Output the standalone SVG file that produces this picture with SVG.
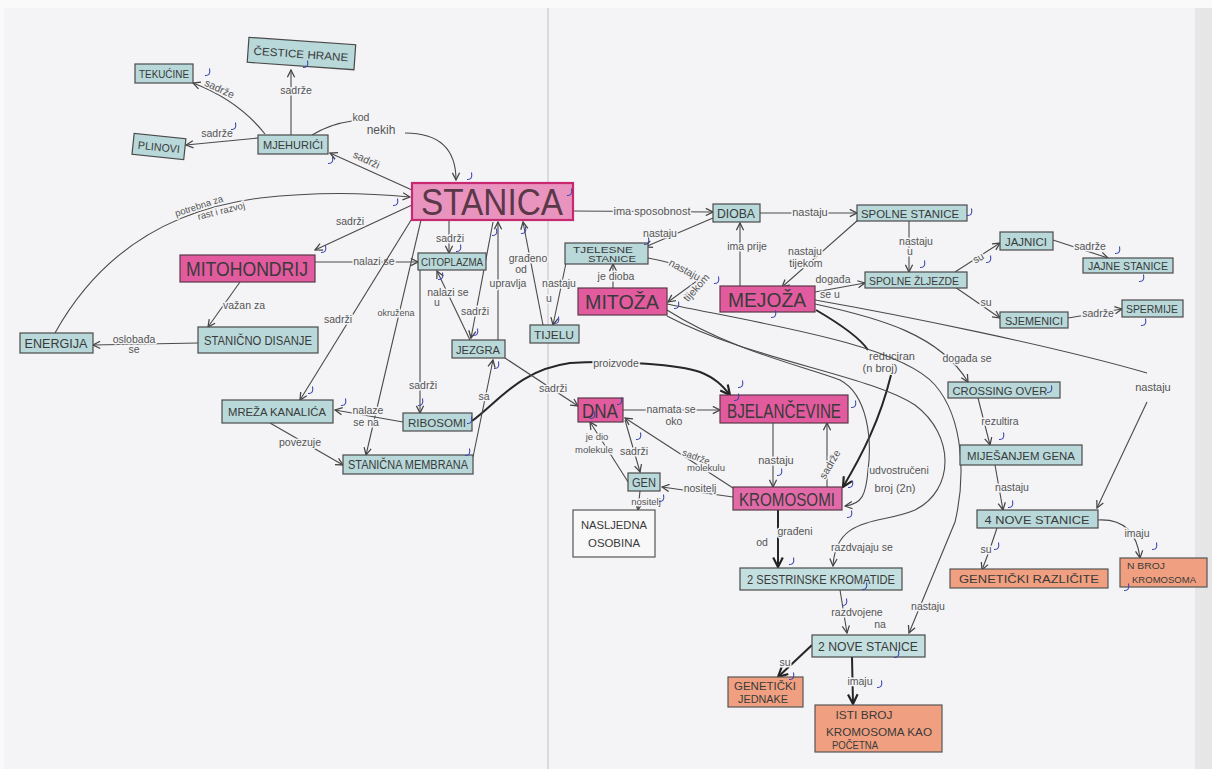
<svg xmlns="http://www.w3.org/2000/svg" width="1212" height="769" viewBox="0 0 1212 769">
<defs>
<marker id="ah" viewBox="0 0 10 10" refX="9" refY="5" markerWidth="9" markerHeight="9" orient="auto" markerUnits="userSpaceOnUse">
<path d="M1,1 L9,5 L1,9" fill="none" stroke="#444" stroke-width="1.4"/>
</marker>
<marker id="ahb" viewBox="0 0 10 10" refX="9" refY="5" markerWidth="12" markerHeight="12" orient="auto" markerUnits="userSpaceOnUse">
<path d="M1,1 L9,5 L1,9" fill="none" stroke="#222" stroke-width="1.8"/>
</marker>
<symbol id="tick" viewBox="0 0 8 10" width="8" height="10"><path d="M5.5,0.5 Q7,8 1,7.5" fill="none" stroke="#3a46b0" stroke-width="1.1"/></symbol>
</defs>
<style>
.paper{fill:#f4f4f6}
.teal{fill:#b8d8d9;stroke:#4a4a4a;stroke-width:1.2}
.pink{fill:#e25b9f;stroke:#5a3a48;stroke-width:1.2}
.stbox{fill:#e993bf;stroke:#c8286f;stroke-width:2.2}
.orange{fill:#f0a080;stroke:#555;stroke-width:1.2}
.white{fill:#f8f8f8;stroke:#555;stroke-width:1.2}
.nt{font-family:"Liberation Sans",Arial,sans-serif;fill:#3a3a3a;text-anchor:middle}
.lbl{font-family:"Liberation Sans",Arial,sans-serif;font-size:10.5px;fill:#555;text-anchor:middle;stroke:#f4f4f6;stroke-width:3px;paint-order:stroke;stroke-linejoin:round}
.c{fill:none;stroke:#4a4a4a;stroke-width:1.1;marker-end:url(#ah)}
.n{fill:none;stroke:#4a4a4a;stroke-width:1.1}
.t{fill:none;stroke:#262626;stroke-width:2;marker-end:url(#ahb)}
.tn{fill:none;stroke:#262626;stroke-width:2}
</style>
<rect x="0" y="0" width="1212" height="769" fill="#fafafa"/>
<rect x="4" y="8" width="1191" height="761" class="paper"/>
<rect x="1195" y="8" width="17" height="761" fill="#e6e6e6"/>
<line x1="548" y1="8" x2="548" y2="769" stroke="#c9c9cd" stroke-width="1.2"/>

<g id="connectors">
<path class="c" d="M291,135 L291,70"/>
<text class="lbl" x="296" y="94">sadrže</text>
<path class="c" d="M265,134 Q238,100 193,83"/>
<text class="lbl" x="218" y="92" transform="rotate(25 218 92)">sadrže</text>
<path class="c" d="M258,138 L186,145"/>
<text class="lbl" x="217" y="137">sadrže</text>
<path class="n" d="M312,135 Q330,124 352,121"/>
<text class="lbl" x="361" y="121" font-size="9">kod</text>
<text class="lbl" x="381" y="134" style="font-size:12px">nekih</text>
<path class="c" d="M405,133 C440,133 456,150 456,180"/>
<path class="c" d="M412,190 L330,153"/>
<text class="lbl" x="365" y="163" transform="rotate(25 365 163)">sadrži</text>
<path class="c" d="M55,333 C90,270 150,212 260,198 C320,191 370,193 410,197"/>
<text class="lbl" x="200" y="209" transform="rotate(-18 200 209)" style="font-size:9.5px">potrebna za</text>
<text class="lbl" x="222" y="214" transform="rotate(-14 222 214)" style="font-size:9.5px">rast i razvoj</text>
<path class="c" d="M412,205 L315,250"/>
<text class="lbl" x="350" y="225">sadrži</text>
<path class="c" d="M315,262 L418,262"/>
<text class="lbl" x="374" y="265">nalazi se</text>
<path class="c" d="M240,282 L208,327"/>
<text class="lbl" x="244" y="309">važan za</text>
<path class="c" d="M198,343 L93,345"/>
<text class="lbl" x="134" y="343">oslobađa</text>
<text class="lbl" x="134" y="353">se</text>
<path class="c" d="M449,220 L449,253"/>
<text class="lbl" x="450" y="242">sadrži</text>
<path class="c" d="M413,217 L300,400"/>
<text class="lbl" x="338" y="323">sadrži</text>
<path class="c" d="M421,220 L366,455"/>
<text class="lbl" x="396" y="316" style="font-size:9px">okružena</text>
<path class="c" d="M420,270 L420,413"/>
<text class="lbl" x="423" y="389">sadrži</text>
<path class="c" d="M470,340 L437,271"/>
<text class="lbl" x="448" y="296">nalazi se</text>
<text class="lbl" x="437" y="306">u</text>
<path class="c" d="M493,222 L471,338"/>
<text class="lbl" x="475" y="315">sadrži</text>
<path class="c" d="M498,340 L498,222"/>
<text class="lbl" x="508" y="287">upravlja</text>
<path class="c" d="M543,325 L523,222"/>
<text class="lbl" x="528" y="262">građeno</text>
<text class="lbl" x="521" y="273">od</text>
<path class="c" d="M566,263 L553,325"/>
<text class="lbl" x="559" y="287">nastaju</text>
<text class="lbl" x="549" y="302">u</text>
<path class="c" d="M713,218 L645,247"/>
<text class="lbl" x="660" y="237">nastaju</text>
<path class="c" d="M613,288 L613,264"/>
<text class="lbl" x="616" y="280">je dioba</text>
<path class="c" d="M648,258 Q690,266 701,278 L668,302"/>
<text class="lbl" x="683" y="273" transform="rotate(28 683 273)">nastaju</text>
<text class="lbl" x="699" y="290" transform="rotate(-48 699 290)">tijekom</text>
<path class="c" d="M573,211 L713,212"/>
<text class="lbl" x="652" y="215" style="font-size:11px">ima sposobnost</text>
<path class="c" d="M760,213 L857,213"/>
<text class="lbl" x="810" y="216" style="font-size:11px">nastaju</text>
<path class="c" d="M740,286 L740,223"/>
<text class="lbl" x="747" y="250">ima prije</text>
<path class="c" d="M858,220 L782,287"/>
<text class="lbl" x="805" y="255">nastaju</text>
<text class="lbl" x="806" y="267">tijekom</text>
<path class="c" d="M909,221 L909,272"/>
<text class="lbl" x="916" y="245">nastaju</text>
<text class="lbl" x="910" y="255">u</text>
<path class="c" d="M815,292 L865,283"/>
<text class="lbl" x="833" y="283">događa</text>
<text class="lbl" x="830" y="298">se u</text>
<path class="c" d="M955,272 L1000,243"/>
<text class="lbl" x="980" y="261" transform="rotate(-30 980 261)">su</text>
<path class="c" d="M955,287 L1000,318"/>
<text class="lbl" x="986" y="306">su</text>
<path class="c" d="M1053,240 L1108,258"/>
<text class="lbl" x="1090" y="250">sadrže</text>
<path class="c" d="M1068,318 L1122,309"/>
<text class="lbl" x="1098" y="317">sadrže</text>
<path class="c" d="M815,304 C880,318 940,335 968,382"/>
<text class="lbl" x="967" y="362">događa se</text>
<path class="n" d="M815,300 C900,315 1050,345 1147,373"/>
<text class="lbl" x="1153" y="391" style="font-size:11px">nastaju</text>
<path class="c" d="M1147,402 L1097,508"/>
<path class="c" d="M978,398 L990,445"/>
<text class="lbl" x="1000" y="425">rezultira</text>
<path class="c" d="M995,465 L1003,510"/>
<text class="lbl" x="1012" y="491">nastaju</text>
<path class="c" d="M997,528 Q990,550 982,570"/>
<text class="lbl" x="986" y="553">su</text>
<path class="c" d="M1098,520 Q1135,518 1140,558"/>
<text class="lbl" x="1137" y="537">imaju</text>
<path class="tn" d="M816,310 C840,324 860,338 868,350"/>
<text class="lbl" x="892" y="360" style="font-size:11px">reduciran</text>
<text class="lbl" x="880" y="372" style="font-size:11px">(n broj)</text>
<path class="t" d="M891,375 C880,420 862,455 843,487"/>
<path class="c" d="M667,310 C730,350 800,365 840,380 C868,395 872,440 868,470 C866,495 862,504 845,506"/>
<text class="lbl" x="899" y="474">udvostručeni</text>
<text class="lbl" x="895" y="492" style="font-size:11px">broj (2n)</text>
<path class="c" d="M667,316 C750,360 870,375 915,405 C955,435 955,490 915,510 C880,525 836,515 833,566"/>
<text class="lbl" x="862" y="551">razdvajaju se</text>
<path class="c" d="M667,304 C770,325 900,345 935,385 C965,420 965,480 955,522 L909,633"/>
<text class="lbl" x="928" y="610">nastaju</text>
<path class="t" d="M472,421 C500,400 520,370 570,363 C620,360 680,365 700,372 C715,378 722,385 730,395"/>
<text class="lbl" x="616" y="367">proizvode</text>
<path class="c" d="M505,358 L578,406"/>
<text class="lbl" x="553" y="392">sadrži</text>
<path class="c" d="M473,457 L493,360"/>
<text class="lbl" x="484" y="400">sa</text>
<path class="c" d="M403,422 L335,410"/>
<text class="lbl" x="368" y="414">nalaze</text>
<text class="lbl" x="366" y="426">se na</text>
<path class="c" d="M270,423 L343,465"/>
<text class="lbl" x="300" y="446">povezuje</text>
<path class="c" d="M623,410 L720,410"/>
<text class="lbl" x="671" y="413">namata se</text>
<text class="lbl" x="674" y="425">oko</text>
<path class="c" d="M773,423 L773,487"/>
<text class="lbl" x="776" y="464" style="font-size:11px">nastaju</text>
<path class="c" d="M827,487 L827,423"/>
<text class="lbl" x="833" y="466" transform="rotate(-60 833 466)">sadrže</text>
<path class="c" d="M625,420 L640,472"/>
<text class="lbl" x="634" y="455">sadrži</text>
<path class="c" d="M630,485 L590,422"/>
<text class="lbl" x="597" y="440" style="font-size:9.5px">je dio</text>
<text class="lbl" x="594" y="453" style="font-size:9.5px">molekule</text>
<path class="c" d="M733,488 L625,418"/>
<text class="lbl" x="695" y="460" transform="rotate(20 695 460)" style="font-size:9.5px">sadrže</text>
<text class="lbl" x="706" y="471" style="font-size:9.5px">molekulu</text>
<path class="c" d="M733,497 L662,487"/>
<text class="lbl" x="700" y="492">nositelj</text>
<path class="c" d="M640,491 L638,510"/>
<text class="lbl" x="646" y="505" style="font-size:9.5px">nositelj</text>
<path class="t" d="M778,510 L778,567"/>
<text class="lbl" x="795" y="535">građeni</text>
<text class="lbl" x="762" y="546">od</text>
<path class="c" d="M840,590 L847,633"/>
<text class="lbl" x="857" y="616">razdvojene</text>
<text class="lbl" x="880" y="628">na</text>
<path class="t" d="M812,645 L778,677"/>
<text class="lbl" x="785" y="666">su</text>
<path class="t" d="M852,657 L853,704"/>
<text class="lbl" x="860" y="685">imaju</text>
</g>

<g id="n-cestice"><rect x="248" y="41" width="107" height="25" class="teal" transform="rotate(4 301 53)"/><text class="nt" x="301" y="58" font-size="11" textLength="95" lengthAdjust="spacingAndGlyphs" transform="rotate(4 301 53)">ČESTICE HRANE</text></g>
<g id="n-tekucine"><rect x="135" y="64" width="58" height="19" class="teal"/><text class="nt" x="164" y="78" font-size="10.5" textLength="50" lengthAdjust="spacingAndGlyphs">TEKUĆINE</text></g>
<g id="n-plinovi"><rect x="133" y="136" width="52" height="21" class="teal" transform="rotate(6 159 146)"/><text class="nt" x="159" y="151" font-size="11" textLength="42" lengthAdjust="spacingAndGlyphs" transform="rotate(6 159 146)">PLINOVI</text></g>
<g id="n-mjehurici"><rect x="258" y="135" width="70" height="19" class="teal"/><text class="nt" x="293" y="149" font-size="11" textLength="60" lengthAdjust="spacingAndGlyphs">MJEHURIĆI</text></g>
<g id="n-stanica"><rect x="412" y="183" width="161" height="37" class="stbox"/><text class="nt" x="492" y="215" font-size="36" textLength="142" lengthAdjust="spacingAndGlyphs" style="fill:#5a3848">STANICA</text></g>
<g id="n-mitohondrij"><rect x="180" y="255" width="135" height="27" class="pink"/><text class="nt" x="247" y="276" font-size="21" textLength="122" lengthAdjust="spacingAndGlyphs">MITOHONDRIJ</text></g>
<g id="n-energija"><rect x="20" y="333" width="73" height="20" class="teal"/><text class="nt" x="56" y="348" font-size="12" textLength="63" lengthAdjust="spacingAndGlyphs">ENERGIJA</text></g>
<g id="n-disanje"><rect x="198" y="327" width="120" height="26" class="teal"/><text class="nt" x="258" y="345" font-size="12" textLength="108" lengthAdjust="spacingAndGlyphs">STANIČNO DISANJE</text></g>
<g id="n-mreza"><rect x="222" y="400" width="111" height="23" class="teal"/><text class="nt" x="277" y="416" font-size="11.5" textLength="98" lengthAdjust="spacingAndGlyphs">MREŽA KANALIĆA</text></g>
<g id="n-citoplazma"><rect x="418" y="253" width="68" height="17" class="teal"/><text class="nt" x="452" y="266" font-size="10.5" textLength="62" lengthAdjust="spacingAndGlyphs">CITOPLAZMA</text></g>
<g id="n-jezgra"><rect x="452" y="340" width="53" height="18" class="teal"/><text class="nt" x="478" y="354" font-size="11.5" textLength="44" lengthAdjust="spacingAndGlyphs">JEZGRA</text></g>
<g id="n-ribosomi"><rect x="403" y="413" width="69" height="18" class="teal"/><text class="nt" x="437" y="427" font-size="11.5" textLength="58" lengthAdjust="spacingAndGlyphs">RIBOSOMI</text></g>
<g id="n-membrana"><rect x="343" y="455" width="130" height="19" class="teal"/><text class="nt" x="408" y="469" font-size="12" textLength="120" lengthAdjust="spacingAndGlyphs">STANIČNA MEMBRANA</text></g>
<g id="n-tijelu"><rect x="530" y="325" width="49" height="18" class="teal"/><text class="nt" x="554" y="339" font-size="11.5" textLength="40" lengthAdjust="spacingAndGlyphs">TIJELU</text></g>
<g id="n-tjelesne"><rect x="565" y="243" width="83" height="21" class="teal"/><text class="nt" x="603" y="253" font-size="9.5" textLength="60" lengthAdjust="spacingAndGlyphs">TJELESNE</text><text class="nt" x="612" y="262" font-size="9.5" textLength="48" lengthAdjust="spacingAndGlyphs">STANICE</text></g>
<g id="n-mitoza"><rect x="578" y="288" width="89" height="27" class="pink"/><text class="nt" x="622" y="309" font-size="20" textLength="74" lengthAdjust="spacingAndGlyphs">MITOŽA</text></g>
<g id="n-dioba"><rect x="713" y="204" width="47" height="18" class="teal"/><text class="nt" x="736" y="218" font-size="12" textLength="38" lengthAdjust="spacingAndGlyphs">DIOBA</text></g>
<g id="n-mejoza"><rect x="720" y="286" width="95" height="26" class="pink"/><text class="nt" x="767" y="307" font-size="20" textLength="78" lengthAdjust="spacingAndGlyphs">MEJOŽA</text></g>
<g id="n-spolne-stanice"><rect x="857" y="205" width="110" height="16" class="teal"/><text class="nt" x="910" y="218" font-size="11.5" textLength="98" lengthAdjust="spacingAndGlyphs">SPOLNE STANICE</text></g>
<g id="n-zljezde"><rect x="865" y="272" width="102" height="16" class="teal"/><text class="nt" x="914" y="285" font-size="10.5" textLength="90" lengthAdjust="spacingAndGlyphs">SPOLNE ŽLJEZDE</text></g>
<g id="n-jajnici"><rect x="1000" y="232" width="53" height="18" class="teal"/><text class="nt" x="1026" y="246" font-size="11" textLength="42" lengthAdjust="spacingAndGlyphs">JAJNICI</text></g>
<g id="n-jajne"><rect x="1083" y="258" width="90" height="15" class="teal"/><text class="nt" x="1128" y="270" font-size="10" textLength="80" lengthAdjust="spacingAndGlyphs">JAJNE STANICE</text></g>
<g id="n-sjemenici"><rect x="1000" y="312" width="68" height="16" class="teal"/><text class="nt" x="1034" y="325" font-size="11" textLength="58" lengthAdjust="spacingAndGlyphs">SJEMENICI</text></g>
<g id="n-spermije"><rect x="1122" y="300" width="61" height="17" class="teal"/><text class="nt" x="1152" y="313" font-size="10.5" textLength="52" lengthAdjust="spacingAndGlyphs">SPERMIJE</text></g>
<g id="n-dna"><rect x="578" y="398" width="45" height="24" class="pink"/><text class="nt" x="600" y="418" font-size="20" textLength="36" lengthAdjust="spacingAndGlyphs">DNA</text></g>
<g id="n-gen"><rect x="628" y="473" width="32" height="18" class="teal"/><text class="nt" x="644" y="487" font-size="12" textLength="24" lengthAdjust="spacingAndGlyphs">GEN</text></g>
<g id="n-nasljedna"><rect x="573" y="510" width="82" height="47" class="white"/><text class="nt" x="614" y="529" font-size="11.5" textLength="66" lengthAdjust="spacingAndGlyphs">NASLJEDNA</text><text class="nt" x="614" y="547" font-size="11.5" textLength="52" lengthAdjust="spacingAndGlyphs">OSOBINA</text></g>
<g id="n-bjelancevine"><rect x="720" y="395" width="128" height="28" class="pink"/><text class="nt" x="784" y="418" font-size="20" textLength="114" lengthAdjust="spacingAndGlyphs">BJELANČEVINE</text></g>
<g id="n-kromosomi"><rect x="733" y="487" width="109" height="23" class="pink" style="fill:#e26aa9"/><text class="nt" x="787" y="506" font-size="19" textLength="96" lengthAdjust="spacingAndGlyphs">KROMOSOMI</text></g>
<g id="n-sestrinske"><rect x="740" y="568" width="162" height="22" class="teal" style="fill:#c4dfe0"/><text class="nt" x="821" y="584" font-size="12" textLength="148" lengthAdjust="spacingAndGlyphs">2 SESTRINSKE KROMATIDE</text></g>
<g id="n-nove2"><rect x="812" y="635" width="113" height="22" class="teal" style="fill:#c4dfe0"/><text class="nt" x="868" y="651" font-size="12" textLength="100" lengthAdjust="spacingAndGlyphs">2 NOVE STANICE</text></g>
<g id="n-jednake"><rect x="728" y="677" width="75" height="30" class="orange"/><text class="nt" x="765" y="690" font-size="10" textLength="62" lengthAdjust="spacingAndGlyphs">GENETIČKI</text><text class="nt" x="763" y="703" font-size="10" textLength="50" lengthAdjust="spacingAndGlyphs">JEDNAKE</text></g>
<g id="n-isti"><rect x="815" y="705" width="127" height="47" class="orange"/><text class="nt" x="864" y="719" font-size="11" textLength="57" lengthAdjust="spacingAndGlyphs">ISTI BROJ</text><text class="nt" x="879" y="736" font-size="11" textLength="106" lengthAdjust="spacingAndGlyphs">KROMOSOMA KAO</text><text class="nt" x="855" y="749" font-size="11" textLength="46" lengthAdjust="spacingAndGlyphs">POČETNA</text></g>
<g id="n-crossing"><rect x="948" y="382" width="112" height="16" class="teal"/><text class="nt" x="1000" y="395" font-size="10.5" textLength="95" lengthAdjust="spacingAndGlyphs">CROSSING OVER</text></g>
<g id="n-mijesanjem"><rect x="960" y="445" width="122" height="20" class="teal"/><text class="nt" x="1021" y="460" font-size="11" textLength="108" lengthAdjust="spacingAndGlyphs">MIJEŠANJEM GENA</text></g>
<g id="n-nove4"><rect x="977" y="510" width="121" height="18" class="teal"/><text class="nt" x="1037" y="524" font-size="11.5" textLength="105" lengthAdjust="spacingAndGlyphs">4 NOVE STANICE</text></g>
<g id="n-razlicite"><rect x="950" y="569" width="158" height="19" class="orange"/><text class="nt" x="1029" y="583" font-size="11" textLength="140" lengthAdjust="spacingAndGlyphs">GENETIČKI RAZLIČITE</text></g>
<g id="n-nbroj"><rect x="1120" y="558" width="87" height="29" class="orange"/><text class="nt" x="1146" y="569" font-size="9" textLength="38" lengthAdjust="spacingAndGlyphs">N BROJ</text><text class="nt" x="1164" y="583" font-size="9.5" textLength="64" lengthAdjust="spacingAndGlyphs">KROMOSOMA</text></g>

<g id="marks">
<use href="#tick" x="302" y="60"/><use href="#tick" x="204" y="68"/><use href="#tick" x="230" y="122"/><use href="#tick" x="327" y="156"/>
<use href="#tick" x="392" y="198"/><use href="#tick" x="320" y="245"/><use href="#tick" x="566" y="188"/><use href="#tick" x="466" y="172"/>
<use href="#tick" x="491" y="228"/><use href="#tick" x="520" y="226"/><use href="#tick" x="455" y="244"/><use href="#tick" x="437" y="272"/>
<use href="#tick" x="472" y="328"/><use href="#tick" x="493" y="361"/><use href="#tick" x="417" y="398"/><use href="#tick" x="466" y="416"/>
<use href="#tick" x="464" y="448"/><use href="#tick" x="340" y="398"/><use href="#tick" x="307" y="386"/><use href="#tick" x="553" y="316"/>
<use href="#tick" x="643" y="237"/><use href="#tick" x="673" y="301"/><use href="#tick" x="713" y="276"/><use href="#tick" x="770" y="310"/>
<use href="#tick" x="966" y="208"/><use href="#tick" x="919" y="260"/><use href="#tick" x="985" y="255"/><use href="#tick" x="1114" y="246"/>
<use href="#tick" x="1138" y="274"/><use href="#tick" x="1140" y="318"/><use href="#tick" x="1046" y="385"/><use href="#tick" x="998" y="432"/>
<use href="#tick" x="1007" y="500"/><use href="#tick" x="993" y="542"/><use href="#tick" x="1151" y="542"/><use href="#tick" x="1123" y="583"/>
<use href="#tick" x="616" y="397"/><use href="#tick" x="635" y="432"/><use href="#tick" x="658" y="494"/><use href="#tick" x="737" y="380"/>
<use href="#tick" x="776" y="468"/><use href="#tick" x="847" y="480"/><use href="#tick" x="846" y="510"/><use href="#tick" x="788" y="557"/>
<use href="#tick" x="841" y="598"/><use href="#tick" x="861" y="582"/><use href="#tick" x="893" y="650"/><use href="#tick" x="876" y="680"/>
<use href="#tick" x="788" y="672"/><use href="#tick" x="589" y="411"/><use href="#tick" x="733" y="393"/><use href="#tick" x="850" y="400"/>
</g>
</svg>
